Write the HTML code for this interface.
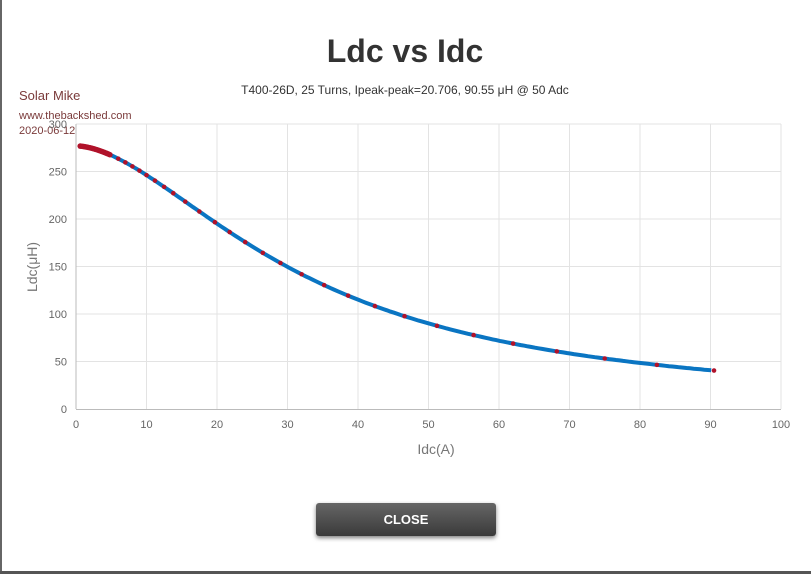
<!DOCTYPE html>
<html><head><meta charset="utf-8"><style>
body{margin:0;width:811px;height:574px;background:#fff;position:relative;overflow:hidden;font-family:"Liberation Sans",sans-serif}
.lb{position:absolute;left:0;top:0;width:2px;height:574px;background:#666}
.bb{position:absolute;left:0;top:571px;width:811px;height:3px;background:#555}
.btn{position:absolute;left:316px;top:503px;width:180px;height:33px;border-radius:3px;background:linear-gradient(#666,#3a3a3a);box-shadow:0 2px 4px rgba(0,0,0,.5);color:#fff;font-weight:bold;font-size:13px;text-align:center;line-height:33px;font-family:"Liberation Sans Narrow","Liberation Sans",sans-serif}
</style></head><body>
<div class="lb"></div><div class="bb"></div>
<svg width="811" height="574" style="position:absolute;left:0;top:0" font-family="Liberation Sans, sans-serif">
<text x="405" y="62" text-anchor="middle" font-size="32" font-weight="bold" fill="#333">Ldc vs Idc</text>
<text x="405" y="94" text-anchor="middle" font-size="12" fill="#333">T400-26D, 25 Turns, Ipeak-peak=20.706, 90.55 μH @ 50 Adc</text>
<text x="19" y="100" font-size="13" fill="#7a3a3a">Solar Mike</text>
<text x="19" y="119" font-size="11" fill="#7a3a3a">www.thebackshed.com</text>
<text x="19" y="134" font-size="11" fill="#7a3a3a">2020-06-12</text>
<g id="grid" stroke="#e3e3e3" stroke-width="1"></g>
<line x1="76" y1="124" x2="76" y2="409" stroke="#bbb"/>
<line x1="76" y1="409.5" x2="781" y2="409.5" stroke="#bbb"/>
<g id="lab" font-size="11" fill="#666"></g>
<text x="436" y="454" text-anchor="middle" font-size="14" fill="#777">Idc(A)</text>
<text transform="translate(37,267) rotate(-90)" text-anchor="middle" font-size="14" fill="#777">Ldc(μH)</text>
<path id="curve" fill="none" stroke="#0a75c2" stroke-width="4"/>
<g id="dots" fill="#b0122a"></g>
</svg>
<div class="btn">CLOSE</div>
<script>
var ns="http://www.w3.org/2000/svg";
function el(p,t,a,txt){var e=document.createElementNS(ns,t);for(var k in a)e.setAttribute(k,a[k]);if(txt!=null)e.textContent=txt;document.getElementById(p).appendChild(e);}
function X(v){return 76+v*7.05}function Y(v){return 409-v*0.95}
function L(i){return 277/(1+Math.pow(i/32.9,1.745));}
for(var i=0;i<=10;i++){var x=X(i*10);if(i>0)el("grid","line",{x1:x,y1:124,x2:x,y2:409});el("lab","text",{x:x,y:428,"text-anchor":"middle"},i*10);}
for(var j=0;j<=6;j++){var y=Y(j*50);if(j>0)el("grid","line",{x1:76,y1:y,x2:781,y2:y});el("lab","text",{x:67,y:y+4,"text-anchor":"end"},j*50);}
var d="";for(var v=0.6;v<=90.5;v+=0.5){d+=(v==0.6?"M":"L")+X(v).toFixed(1)+","+Y(L(v)).toFixed(1);}
document.getElementById("curve").setAttribute("d",d);
for(var v=0.6;v<=5;v+=0.2)el("dots","circle",{cx:X(v),cy:Y(L(v)),r:2.8});
[6,7,8,9,10,11.2,12.5,13.8,15.5,17.5,19.7,21.8,24,26.5,29,32,35.2,38.6,42.4,46.6,51.2,56.4,62,68.2,75,82.4,90.5].forEach(function(v){el("dots","circle",{cx:X(v),cy:Y(L(v)),r:2.3});});
</script>
</body></html>
